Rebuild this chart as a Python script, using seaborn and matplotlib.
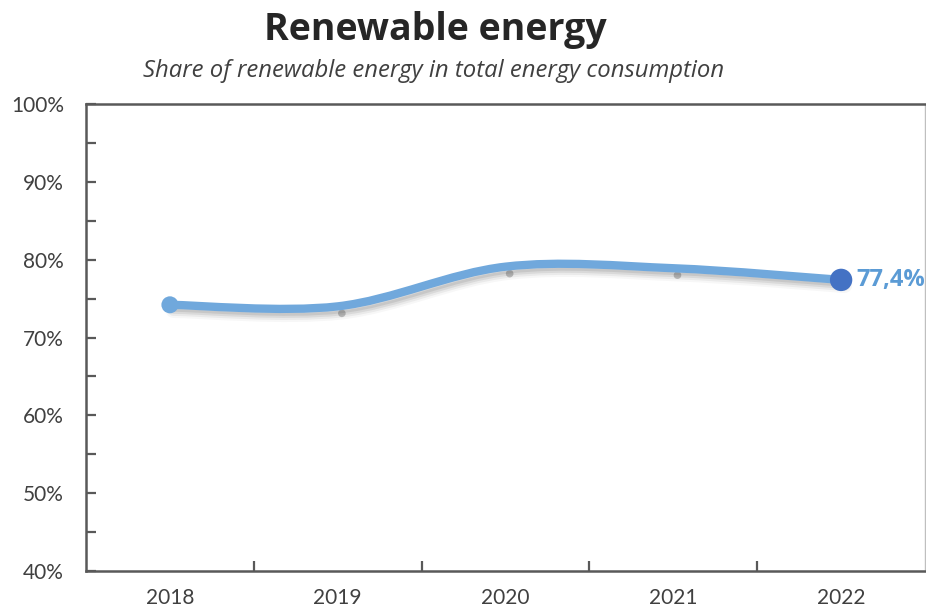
import matplotlib
matplotlib.use("Agg")
import matplotlib.pyplot as plt
import matplotlib.patheffects as pe
from matplotlib.path import Path
from matplotlib.patches import PathPatch
from matplotlib.ticker import MultipleLocator, FixedLocator, NullFormatter
import pandas as pd
import seaborn as sns

years = ["2018", "2019", "2020", "2021", "2022"]
share = [74.2, 74.0, 79.1, 78.9, 77.4]
last_label = "77,4%"
y_ticks = [40, 50, 60, 70, 80, 90, 100]

line_col = "#70a8dc"
dot_col = "#4472c4"
label_col = "#5b9bd5"
axis_col = "#595959"

sns.set_theme(style="white")
plt.rcParams["font.family"] = ["Lato", "DejaVu Sans"]

df = pd.DataFrame({"year": years, "share": share})
df["x"] = range(len(df))

fig = plt.figure(figsize=(9.26, 6.12), dpi=100)
ax = fig.add_axes([86 / 926, 1 - 571 / 612, 839 / 926, 467 / 612])

# smoothed line (Excel-style spline through the data points)
xs = list(df["x"])
ys = list(df["share"])
verts = [(xs[0], ys[0])]
codes = [Path.MOVETO]
n = len(xs)
for i in range(n - 1):
    x0, y0 = xs[max(i - 1, 0)], ys[max(i - 1, 0)]
    x1, y1 = xs[i], ys[i]
    x2, y2 = xs[i + 1], ys[i + 1]
    x3, y3 = xs[min(i + 2, n - 1)], ys[min(i + 2, n - 1)]
    verts += [(x1 + (x2 - x0) / 6, y1 + (y2 - y0) / 6),
              (x2 - (x3 - x1) / 6, y2 - (y3 - y1) / 6),
              (x2, y2)]
    codes += [Path.CURVE4] * 3
curve = PathPatch(Path(verts, codes), fill=False, edgecolor=line_col, lw=6,
                  capstyle="round", zorder=3,
                  path_effects=[
                      pe.Stroke(offset=(2.5, -4), linewidth=11, foreground="#000000", alpha=0.03),
                      pe.Stroke(offset=(2.5, -4), linewidth=8, foreground="#000000", alpha=0.05),
                      pe.Stroke(offset=(2.5, -4), linewidth=5, foreground="#000000", alpha=0.07),
                      pe.Stroke(offset=(2.5, -4), linewidth=2, foreground="#000000", alpha=0.08),
                      pe.Normal()])
ax.add_patch(curve)

# faint marker shadows at the data points
sns.scatterplot(data=df.iloc[1:-1], x="x", y="share", ax=ax, s=30, color="#444444",
                alpha=0.3, edgecolor="none", zorder=2, legend=False)
for c in ax.collections:
    c.set_path_effects([pe.Stroke(offset=(3, -5), linewidth=0)])

# start marker and highlighted last point
sns.scatterplot(data=df.iloc[[0]], x="x", y="share", ax=ax, s=150, color=line_col,
                edgecolor="none", zorder=4, legend=False)
sns.scatterplot(data=df.iloc[[-1]], x="x", y="share", ax=ax, s=260, color=dot_col,
                edgecolor="none", zorder=5, legend=False)
ax.annotate(last_label, (df["x"].iloc[-1], df["share"].iloc[-1]), xytext=(11, 0),
            textcoords="offset points", va="center", ha="left", fontsize=17,
            fontweight="bold", color=label_col, family=["Open Sans", "DejaVu Sans"],
            annotation_clip=False)

ax.set_xlim(-0.5, len(years) - 0.5)
ax.set_ylim(40, 100)
ax.set_xlabel("")
ax.set_ylabel("")

ax.yaxis.set_major_locator(FixedLocator(y_ticks))
ax.yaxis.set_minor_locator(MultipleLocator(5))
ax.set_yticklabels([f"{v}%" for v in y_ticks])
ax.xaxis.set_major_locator(FixedLocator([i + 0.5 for i in range(len(years) - 1)]))
ax.xaxis.set_major_formatter(NullFormatter())
ax.xaxis.set_minor_locator(FixedLocator(list(df["x"])))
ax.set_xticklabels(years, minor=True)

ax.tick_params(axis="y", which="both", direction="in", length=7, width=1.6,
               color=axis_col, left=True, labelsize=15, labelcolor="#404040", pad=16)
ax.tick_params(axis="x", which="major", direction="in", length=7, width=1.6,
               color=axis_col, bottom=True)
ax.tick_params(axis="x", which="minor", length=0, labelsize=15,
               labelcolor="#404040", pad=12)

for side in ["left", "bottom", "top"]:
    ax.spines[side].set_color(axis_col)
    ax.spines[side].set_linewidth(1.8)
ax.spines["right"].set_color("#bfbfbf")
ax.spines["right"].set_linewidth(1)

fig.text(435 / 926, 1 - 30 / 612, "Renewable energy", ha="center", va="center",
         fontsize=27, fontweight="bold", color="#262626",
         family=["Open Sans", "DejaVu Sans"])
fig.text(434 / 926, 1 - 71 / 612, "Share of renewable energy in total energy consumption",
         ha="center", va="center", fontsize=17.2, style="italic", color="#404040",
         family=["Open Sans", "DejaVu Sans"])

fig.savefig("out.png", dpi=100)
